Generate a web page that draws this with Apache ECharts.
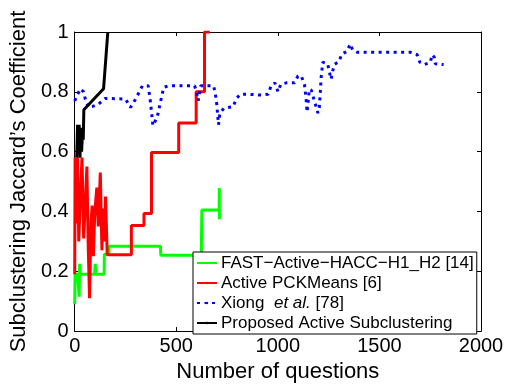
<!DOCTYPE html>
<html>
<head>
<meta charset="utf-8">
<script src="https://cdn.jsdelivr.net/npm/echarts@6/dist/echarts.min.js"></script>
<style>
  html, body { margin: 0; padding: 0; background: #fff; }
  #chart { width: 509px; height: 388px; }
</style>
</head>
<body>
<div id="chart"></div>
<script>
// [questions, jaccard] pairs
const fastData = [
  [0, 0.09], [2, 0.19], [14, 0.19], [22, 0.115], [24, 0.225], [27, 0.19],
  [98, 0.19], [101, 0.225], [104, 0.19], [145, 0.19], [146, 0.257],
  [168, 0.257], [170, 0.284], [422, 0.284], [424, 0.254], [623, 0.254],
  [626, 0.405], [711, 0.405], [712, 0.478], [712, 0.374]
];
const pckData = [
  [0, 0.19], [2, 0.58], [8, 0.36], [14, 0.58], [20, 0.30], [28, 0.45],
  [36, 0.58], [44, 0.31], [52, 0.42], [60, 0.55], [66, 0.30], [73, 0.11],
  [80, 0.36], [86, 0.42], [92, 0.25], [98, 0.38], [104, 0.44], [109, 0.48],
  [116, 0.35], [126, 0.53], [134, 0.27], [139, 0.41], [146, 0.30],
  [152, 0.45], [158, 0.455], [160, 0.255], [279, 0.255], [279, 0.353],
  [341, 0.353], [341, 0.393], [378, 0.393], [378, 0.597], [512, 0.597],
  [512, 0.696], [598, 0.696], [598, 0.80], [639, 0.80], [639, 1.0], [665, 1.0]
];
const xiongData = [
  [0, 0.77], [11, 0.787], [28, 0.81], [44, 0.80], [52, 0.776], [68, 0.748],
  [88, 0.751], [117, 0.759], [150, 0.778], [250, 0.776], [275, 0.748],
  [300, 0.776], [333, 0.82], [362, 0.82], [373, 0.765], [385, 0.687],
  [406, 0.715], [422, 0.765], [438, 0.815], [460, 0.82], [590, 0.82],
  [600, 0.80], [608, 0.77], [620, 0.82], [683, 0.82], [691, 0.80],
  [699, 0.76], [708, 0.69], [715, 0.73], [735, 0.745], [781, 0.751],
  [794, 0.776], [815, 0.792], [850, 0.792], [919, 0.789], [952, 0.792],
  [965, 0.817], [985, 0.83], [1001, 0.80], [1014, 0.825], [1042, 0.83],
  [1082, 0.83], [1099, 0.853], [1115, 0.853], [1131, 0.825], [1139, 0.776],
  [1144, 0.732], [1155, 0.809], [1165, 0.805], [1177, 0.776], [1188, 0.751],
  [1197, 0.729], [1204, 0.748], [1209, 0.798], [1213, 0.847], [1221, 0.899],
  [1245, 0.894], [1253, 0.869], [1262, 0.842], [1270, 0.869], [1278, 0.891],
  [1302, 0.902], [1314, 0.926], [1340, 0.935], [1356, 0.96], [1368, 0.94],
  [1392, 0.932], [1653, 0.932], [1686, 0.924], [1699, 0.899], [1721, 0.891],
  [1751, 0.899], [1759, 0.924], [1770, 0.916], [1775, 0.894], [1816, 0.891]
];
const proposedData = [
  [10, 0.58], [14, 0.69], [18, 0.6], [22, 0.69], [26, 0.58], [30, 0.68],
  [34, 0.6], [38, 0.66], [42, 0.64], [45, 0.74], [142, 0.81], [163, 1.0]
];
const seriesNames = [
  'FAST\u2212Active\u2212HACC\u2212H1_H2 [14]',
  'Active PCKMeans [6]',
  'Xiong  et al. [78]',
  'Proposed Active Subclustering'
];
const xTicks = { min: 0, max: 2000, interval: 500 };
const yTicks = { min: 0, max: 1, interval: 0.2 };

const font = '"Liberation Sans", Arial, sans-serif';
const chart = echarts.init(document.getElementById('chart'), null, { renderer: 'canvas' });

const tickIn = { show: true, inside: true, length: 4, lineStyle: { color: '#000' } };
const frameLine = { show: true, onZero: false, lineStyle: { color: '#000', width: 1 } };

function lineSeries(name, data, color, type) {
  return {
    name: name,
    type: 'line',
    data: data,
    symbol: 'none',
    animation: false,
    lineStyle: { color: color, width: 3, type: type || 'solid' },
    itemStyle: { color: color }
  };
}

chart.setOption({
  backgroundColor: '#fff',
  textStyle: { fontFamily: font },
  grid: { left: 72, right: 28, top: 32, bottom: 53 },
  xAxis: [{
    type: 'value', min: xTicks.min, max: xTicks.max, interval: xTicks.interval,
    name: 'Number of questions', nameLocation: 'middle', nameGap: 25,
    nameTextStyle: { fontSize: 22, color: '#000', fontFamily: font },
    axisLine: frameLine, axisTick: tickIn, splitLine: { show: false },
    axisLabel: { fontSize: 20, color: '#000', margin: 5, fontFamily: font,
      formatter: v => String(v) }
  }, {
    type: 'value', position: 'top', min: xTicks.min, max: xTicks.max, interval: xTicks.interval,
    axisLine: frameLine, axisTick: tickIn, splitLine: { show: false },
    axisLabel: { show: false }
  }],
  yAxis: [{
    type: 'value', min: yTicks.min, max: yTicks.max, interval: yTicks.interval,
    name: 'Subclustering Jaccard\u2019s Coefficient', nameLocation: 'middle', nameGap: 35,
    nameTextStyle: { fontSize: 22, color: '#000', fontFamily: font },
    axisLine: frameLine, axisTick: tickIn, splitLine: { show: false },
    axisLabel: { fontSize: 20, color: '#000', margin: 6, fontFamily: font,
      formatter: v => String(+v.toFixed(1)) }
  }, {
    type: 'value', position: 'right', min: yTicks.min, max: yTicks.max, interval: yTicks.interval,
    axisLine: frameLine, axisTick: tickIn, splitLine: { show: false },
    axisLabel: { show: false }
  }],
  legend: {
    orient: 'vertical',
    left: 193, top: 252,
    padding: [1, 3, 1, 3],
    itemGap: 0,
    itemWidth: 20, itemHeight: 3,
    backgroundColor: '#fff',
    borderColor: '#000', borderWidth: 1,
    data: seriesNames,
    formatter: function (name) {
      if (name === seriesNames[2]) return '{n|Xiong  }{i|et al.}{n| [78]}';
      return '{n|' + name + '}';
    },
    textStyle: {
      fontFamily: font, fontSize: 17, color: '#000', lineHeight: 20, padding: [0, 0, 0, -1],
      rich: {
        n: { fontFamily: font, fontSize: 17, color: '#000', lineHeight: 20 },
        i: { fontFamily: font, fontSize: 17, color: '#000', lineHeight: 20, fontStyle: 'italic' }
      }
    }
  },
  series: [
    lineSeries(seriesNames[0], fastData, '#00ff00'),
    lineSeries(seriesNames[1], pckData, '#ff0000'),
    lineSeries(seriesNames[2], xiongData, '#0000ff', [3, 4.5]),
    lineSeries(seriesNames[3], proposedData, '#000000')
  ]
});
</script>
</body>
</html>
